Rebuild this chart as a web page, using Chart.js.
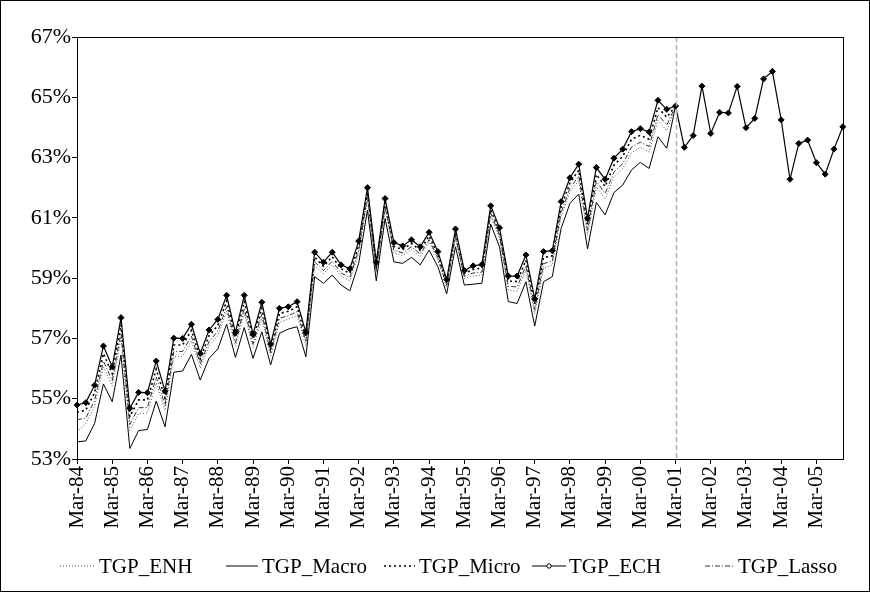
<!DOCTYPE html>
<html>
<head>
<meta charset="utf-8">
<script src="https://cdn.jsdelivr.net/npm/chart.js@4/dist/chart.umd.min.js"></script>
<style>
  html, body { margin: 0; padding: 0; background: #fff; }
  #wrap { width: 870px; height: 592px; }
</style>
</head>
<body>
<div id="wrap"><canvas id="chart" width="870" height="592"></canvas></div>
<script>
// quarterly categories Mar-84 .. Dec-05
const months = ['Mar', 'Jun', 'Sep', 'Dec'];
const years = [84, 85, 86, 87, 88, 89, 90, 91, 92, 93, 94, 95, 96, 97, 98, 99, 0, 1, 2, 3, 4, 5];
const quarters = [];
years.forEach(y => months.forEach(m => quarters.push(m + '-' + String(y).padStart(2, '0'))));

const yTicks = [53, 55, 57, 59, 61, 63, 65, 67];
const splitIndex = 68; // Mar-01

const tgpECH = [
  54.79, 54.87, 55.45, 56.75, 56.06, 57.69, 54.68, 55.21, 55.20, 56.25, 55.26, 57.01,
  57.00, 57.47, 56.50, 57.28, 57.63, 58.43, 57.19, 58.43, 57.14, 58.20, 56.81, 58.00,
  58.05, 58.22, 57.20, 59.86, 59.53, 59.86, 59.44, 59.31, 60.23, 62.00, 59.53, 61.64,
  60.18, 60.07, 60.27, 60.04, 60.52, 59.88, 58.95, 60.63, 59.25, 59.41, 59.45, 61.40,
  60.67, 59.07, 59.07, 59.77, 58.31, 59.88, 59.91, 61.54, 62.33, 62.78, 60.98, 62.67,
  62.28, 62.98, 63.28, 63.86, 63.96, 63.85, 64.90, 64.60, 64.71, 63.34, 63.73, 65.37,
  63.80, 64.50, 64.48, 65.36, 63.99, 64.30, 65.61, 65.86, 64.25, 62.28, 63.47, 63.58,
  62.83, 62.45, 63.28, 64.02
];
const tgpMacro = [
  53.57, 53.60, 54.18, 55.49, 54.90, 56.45, 53.35, 53.94, 53.98, 54.92, 54.07, 55.88,
  55.92, 56.47, 55.62, 56.34, 56.65, 57.47, 56.37, 57.36, 56.34, 57.22, 56.12, 57.17,
  57.31, 57.39, 56.39, 59.05, 58.83, 59.10, 58.77, 58.58, 59.49, 61.26, 58.91, 60.98,
  59.54, 59.49, 59.69, 59.44, 59.93, 59.38, 58.48, 60.04, 58.77, 58.80, 58.83, 60.79,
  60.04, 58.22, 58.16, 58.88, 57.41, 58.88, 59.05, 60.65, 61.48, 61.79, 59.97, 61.51,
  61.10, 61.84, 62.09, 62.59, 62.84, 62.64, 63.69, 63.31, 64.71
];
const tgpMicro = [
  54.55, 54.62, 55.20, 56.50, 55.83, 57.44, 54.41, 54.96, 54.96, 55.98, 55.02, 56.78,
  56.78, 57.27, 56.32, 57.09, 57.43, 58.24, 57.03, 58.22, 56.98, 58.00, 56.67, 57.83,
  57.90, 58.05, 57.04, 59.70, 59.39, 59.71, 59.31, 59.16, 60.08, 61.85, 59.41, 61.51,
  60.05, 59.95, 60.15, 59.92, 60.40, 59.78, 58.86, 60.51, 59.15, 59.29, 59.33, 61.28,
  60.54, 58.90, 58.89, 59.59, 58.13, 59.68, 59.74, 61.36, 62.16, 62.58, 60.78, 62.44,
  62.04, 62.75, 63.04, 63.61, 63.74, 63.61, 64.66, 64.34, 64.71
];
const tgpLasso = [
  54.30, 54.36, 54.94, 56.25, 55.60, 57.19, 54.15, 54.70, 54.71, 55.72, 54.78, 56.56,
  56.57, 57.07, 56.15, 56.90, 57.24, 58.05, 56.86, 58.00, 56.82, 57.81, 56.53, 57.67,
  57.75, 57.89, 56.88, 59.54, 59.25, 59.56, 59.17, 59.02, 59.93, 61.70, 59.28, 61.38,
  59.92, 59.84, 60.04, 59.80, 60.28, 59.68, 58.76, 60.39, 59.06, 59.17, 59.20, 61.16,
  60.42, 58.73, 58.71, 59.41, 57.95, 59.48, 59.57, 61.18, 61.99, 62.38, 60.58, 62.21,
  61.81, 62.52, 62.80, 63.35, 63.51, 63.37, 64.42, 64.08, 64.71
];
const tgpENH = [
  53.90, 54.17, 54.75, 56.06, 55.42, 57.01, 53.95, 54.51, 54.53, 55.52, 54.61, 56.39,
  56.41, 56.92, 56.02, 56.76, 57.09, 57.90, 56.74, 57.84, 56.70, 57.66, 56.43, 57.54,
  57.64, 57.76, 56.75, 59.41, 59.15, 59.44, 59.07, 58.91, 59.82, 61.59, 59.19, 61.28,
  59.83, 59.75, 59.95, 59.71, 60.20, 59.60, 58.69, 60.31, 58.99, 59.07, 59.11, 61.06,
  60.32, 58.60, 58.57, 59.28, 57.82, 59.33, 59.44, 61.05, 61.86, 62.24, 60.42, 62.03,
  61.63, 62.35, 62.63, 63.16, 63.34, 63.18, 64.23, 63.89, 64.71
];

const serif = '"Liberation Serif", "Times New Roman", serif';

// legend layout: sample start, sample width, text start (one per dataset)
const legendSampleX = [60, 226, 384, 532, 705];
const legendSampleW = [36, 32, 31, 34, 30];
const legendTextX = [99, 262, 419, 569, 738];

function drawSample(ctx, ds, x, y, w) {
    ctx.save();
    ctx.strokeStyle = ds.borderColor;
    ctx.lineWidth = ds.borderWidth;
    ctx.setLineDash(ds.borderDash || []);
    ctx.beginPath();
    ctx.moveTo(x, y);
    ctx.lineTo(x + w, y);
    ctx.stroke();
    if (ds.pointRadius > 0) {
        ctx.setLineDash([]);
        ctx.fillStyle = '#fff';
        ctx.lineWidth = 1;
        ctx.beginPath();
        ctx.arc(x + w / 2, y, 2.2, 0, Math.PI * 2);
        ctx.fill();
        ctx.stroke();
    }
    ctx.restore();
}

const framePlugin = {
    id: 'frame',
    afterDatasetsDraw(chart) {
        const { ctx, chartArea: a, scales } = chart;
        ctx.save();
        // vertical marker at forecast start
        const xs = scales.x.getPixelForValue(splitIndex);
        ctx.strokeStyle = '#b0b0b0';
        ctx.lineWidth = 1.5;
        ctx.setLineDash([5, 3]);
        ctx.beginPath();
        ctx.moveTo(Math.round(xs) + 0.5, a.top);
        ctx.lineTo(Math.round(xs) + 0.5, a.bottom);
        ctx.stroke();
        ctx.setLineDash([]);
        // plot box
        ctx.strokeStyle = '#000';
        ctx.lineWidth = 1;
        ctx.strokeRect(Math.round(a.left) + 0.5, Math.round(a.top) + 0.5,
            Math.round(a.right - a.left), Math.round(a.bottom - a.top));
        ctx.restore();
    },
    afterDraw(chart) {
        const { ctx } = chart;
        ctx.save();
        // outer frame
        ctx.strokeStyle = '#000';
        ctx.lineWidth = 1;
        ctx.strokeRect(0.5, 0.5, chart.width - 1, chart.height - 1);

        // legend
        ctx.font = '21px ' + serif;
        ctx.fillStyle = '#000';
        ctx.textBaseline = 'middle';
        const y = 566;
        chart.data.datasets.forEach((ds, i) => {
            drawSample(ctx, ds, legendSampleX[i], y, legendSampleW[i]);
            ctx.fillText(ds.label, legendTextX[i], y + 1);
        });
        ctx.restore();
    }
};

const chart = new Chart(document.getElementById('chart').getContext('2d'), {
    type: 'line',
    data: {
        labels: quarters,
        datasets: [
            {
                label: 'TGP_ENH',
                data: tgpENH,
                borderColor: '#555',
                borderWidth: 1,
                borderDash: [1, 2],
                pointRadius: 0,
                order: 4
            },
            {
                label: 'TGP_Macro',
                data: tgpMacro,
                borderColor: '#000',
                borderWidth: 1,
                pointRadius: 0,
                order: 3
            },
            {
                label: 'TGP_Micro',
                data: tgpMicro,
                borderColor: '#000',
                borderWidth: 1.6,
                borderDash: [2, 3],
                pointRadius: 0,
                order: 2
            },
            {
                label: 'TGP_ECH',
                data: tgpECH,
                borderColor: '#000',
                borderWidth: 1.2,
                pointRadius: 3,
                pointStyle: 'rectRot',
                pointBackgroundColor: '#000',
                pointBorderColor: '#000',
                pointBorderWidth: 1,
                order: 0
            },
            {
                label: 'TGP_Lasso',
                data: tgpLasso,
                borderColor: '#333',
                borderWidth: 1,
                borderDash: [5, 2, 1, 2],
                pointRadius: 0,
                order: 1
            }
        ]
    },
    options: {
        responsive: false,
        animation: false,
        devicePixelRatio: 1,
        layout: { padding: { left: 0, right: 13, top: 37, bottom: 60 } },
        elements: { line: { tension: 0 } },
        plugins: {
            legend: { display: false },
            tooltip: { enabled: false }
        },
        scales: {
            x: {
                type: 'category',
                offset: false,
                afterFit: s => { s.height = 73; },
                border: { display: true, color: '#000', width: 1 },
                grid: {
                    drawOnChartArea: false,
                    tickLength: 5,
                    color: c => (c.index % 4 === 0 ? '#000' : 'rgba(0,0,0,0)')
                },
                ticks: {
                    autoSkip: false,
                    maxRotation: 90,
                    minRotation: 90,
                    padding: 2,
                    color: '#000',
                    font: { size: 21, family: serif },
                    callback: function (v, i) { return i % 4 === 0 ? this.getLabelForValue(v) : ''; }
                }
            },
            y: {
                min: 53,
                max: 67,
                afterFit: s => { s.width = 77; },
                afterBuildTicks: s => { s.ticks = yTicks.map(v => ({ value: v })); },
                border: { display: true, color: '#000', width: 1 },
                grid: { drawOnChartArea: false, tickLength: 5, color: '#000' },
                ticks: {
                    padding: 1,
                    color: '#000',
                    font: { size: 22, family: serif },
                    callback: v => v + '%'
                }
            }
        }
    },
    plugins: [framePlugin]
});
</script>
</body>
</html>
